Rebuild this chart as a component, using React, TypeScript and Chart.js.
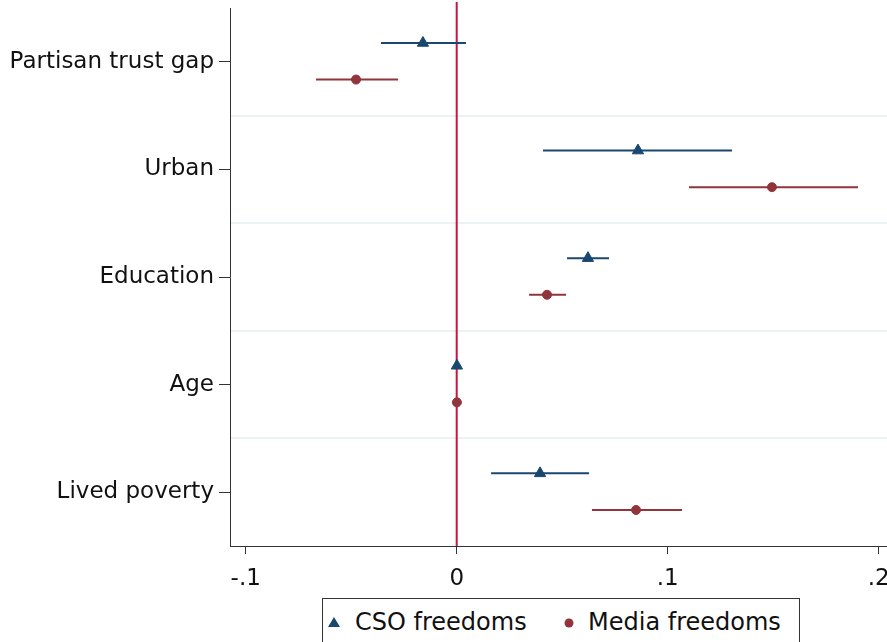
import React, { useEffect, useRef } from "react";
import { Chart, registerables } from "chart.js";
Chart.register(...registerables);

const categories = ["Partisan trust gap", "Urban", "Education", "Age", "Lived poverty"];
const csoCoef = [-0.016, 0.0859, 0.0622, 0.0001, 0.0395];
const csoLow = [-0.0359, 0.0409, 0.0523, -0.0002, 0.0163];
const csoHigh = [0.0044, 0.1305, 0.0722, 0.0004, 0.0627];
const mediaCoef = [-0.0477, 0.1494, 0.0428, 0.0001, 0.085];
const mediaLow = [-0.0667, 0.1101, 0.0343, -0.0002, 0.0641];
const mediaHigh = [-0.0278, 0.1902, 0.0518, 0.0004, 0.1068];
const xTicks = [-0.1, 0, 0.1, 0.2];
const gridLines = [0.5, 1.5, 2.5, 3.5];
const zeroLine = 0;

const X_MIN = -0.10744;
const X_MAX = 0.20393;
const CSO_OFFSET = -0.175;
const MEDIA_OFFSET = 0.165;

const BLUE = "#1a476f";
const MAROON = "#90353b";
const CRIMSON = "#c8153f";
const GRID = "#eaf2f3";
const AXIS = "#333333";
const FONT = "'DejaVu Sans', sans-serif";

const fmt = (v: number) => {
  if (Math.abs(v) < 1e-9) return "0";
  const s = String(Math.round(Math.abs(v) * 1000) / 1000).replace(/^0/, "");
  return (v < 0 ? "-" : "") + s;
};

const errorBars = {
  id: "errorBars",
  beforeDatasetsDraw(chart: any) {
    const { ctx, chartArea, scales } = chart;
    const x = scales.x;
    ctx.save();
    const x0 = x.getPixelForValue(zeroLine);
    ctx.strokeStyle = CRIMSON;
    ctx.lineWidth = 2;
    ctx.beginPath();
    ctx.moveTo(x0, chartArea.top - 6);
    ctx.lineTo(x0, chartArea.bottom);
    ctx.stroke();
    chart.data.datasets.forEach((ds: any, di: number) => {
      const meta = chart.getDatasetMeta(di);
      ctx.strokeStyle = ds.errColor;
      ctx.lineWidth = 2;
      ds.errLow.forEach((lo: number, i: number) => {
        const yp = meta.data[i].y;
        ctx.beginPath();
        ctx.moveTo(x.getPixelForValue(lo), yp);
        ctx.lineTo(x.getPixelForValue(ds.errHigh[i]), yp);
        ctx.stroke();
      });
    });
    ctx.restore();
  },
};

export default function App() {
  const ref = useRef<HTMLCanvasElement | null>(null);
  useEffect(() => {
    if (!ref.current) return;
    const chart = new Chart(ref.current, {
      type: "scatter",
      data: {
        datasets: [
          {
            label: "CSO freedoms",
            data: categories.map((_, i) => ({ x: csoCoef[i], y: i + CSO_OFFSET })),
            pointStyle: "triangle",
            pointRadius: 6.5,
            backgroundColor: BLUE,
            borderColor: BLUE,
            borderWidth: 1,
            errLow: csoLow,
            errHigh: csoHigh,
            errColor: BLUE,
          } as any,
          {
            label: "Media freedoms",
            data: categories.map((_, i) => ({ x: mediaCoef[i], y: i + MEDIA_OFFSET })),
            pointStyle: "circle",
            pointRadius: 4.5,
            backgroundColor: MAROON,
            borderColor: MAROON,
            borderWidth: 1,
            errLow: mediaLow,
            errHigh: mediaHigh,
            errColor: MAROON,
          } as any,
        ],
      },
      options: {
        animation: false,
        responsive: false,
        layout: { padding: { top: 8, right: 33, left: 0, bottom: 0 } },
        plugins: { legend: { display: false }, tooltip: { enabled: false } },
        scales: {
          x: {
            type: "linear",
            min: X_MIN,
            max: X_MAX,
            afterBuildTicks: (s: any) => {
              s.ticks = xTicks.map((v) => ({ value: v }));
            },
            afterFit: (s: any) => {
              s.height = 96;
              s.paddingLeft = 0;
              s.paddingRight = 0;
            },
            grid: { drawOnChartArea: false, drawTicks: true, tickLength: 8, color: AXIS, lineWidth: 1 },
            border: { display: true, color: AXIS, width: 1 },
            ticks: {
              callback: (v: any) => fmt(Number(v)),
              color: "#111",
              font: { family: FONT, size: 23 },
              padding: 11,
              maxRotation: 0,
              autoSkip: false,
            },
          },
          y: {
            type: "linear",
            position: "left",
            min: -0.5,
            max: 4.5,
            reverse: true,
            afterBuildTicks: (s: any) => {
              s.ticks = categories.map((_, i) => ({ value: i }));
            },
            afterFit: (s: any) => {
              s.width = 230;
              s.paddingTop = 0;
              s.paddingBottom = 0;
            },
            grid: { drawOnChartArea: false, drawTicks: true, tickLength: 11, color: AXIS, lineWidth: 1 },
            border: { display: true, color: AXIS, width: 1 },
            ticks: {
              callback: (_v: any, i: number) => categories[i],
              color: "#111",
              font: { family: FONT, size: 23 },
              padding: 5,
              autoSkip: false,
            },
          },
          yg: {
            type: "linear",
            position: "right",
            min: -0.5,
            max: 4.5,
            reverse: true,
            afterBuildTicks: (s: any) => {
              s.ticks = gridLines.map((v) => ({ value: v }));
            },
            afterFit: (s: any) => {
              s.width = 0;
              s.paddingTop = 0;
              s.paddingBottom = 0;
            },
            grid: { drawOnChartArea: true, drawTicks: false, color: GRID, lineWidth: 2 },
            border: { display: false },
            ticks: { display: false },
          },
        },
      } as any,
      plugins: [errorBars],
    });
    return () => chart.destroy();
  }, []);

  return (
    <div style={{ position: "fixed", left: 0, top: 0, width: 887, height: 642, overflow: "hidden", background: "#fff" }}>
      <canvas ref={ref} width={920} height={642} style={{ display: "block" }} />
      <div
        style={{
          position: "absolute",
          left: 322,
          top: 598,
          width: 478,
          height: 70,
          boxSizing: "border-box",
          border: `1px solid ${AXIS}`,
          background: "#fff",
          fontFamily: FONT,
          fontSize: 24,
          color: "#111",
        }}
      >
        <svg style={{ position: "absolute", left: 5, top: 18 }} width={12} height={10}>
          <polygon points="6,0 12,10 0,10" fill={BLUE} />
        </svg>
        <span style={{ position: "absolute", left: 32, top: 9, lineHeight: "28px", whiteSpace: "nowrap" }}>CSO freedoms</span>
        <svg style={{ position: "absolute", left: 241, top: 19 }} width={10} height={10}>
          <circle cx={5} cy={5} r={4.5} fill={MAROON} />
        </svg>
        <span style={{ position: "absolute", left: 265, top: 9, lineHeight: "28px", whiteSpace: "nowrap" }}>Media freedoms</span>
      </div>
    </div>
  );
}
